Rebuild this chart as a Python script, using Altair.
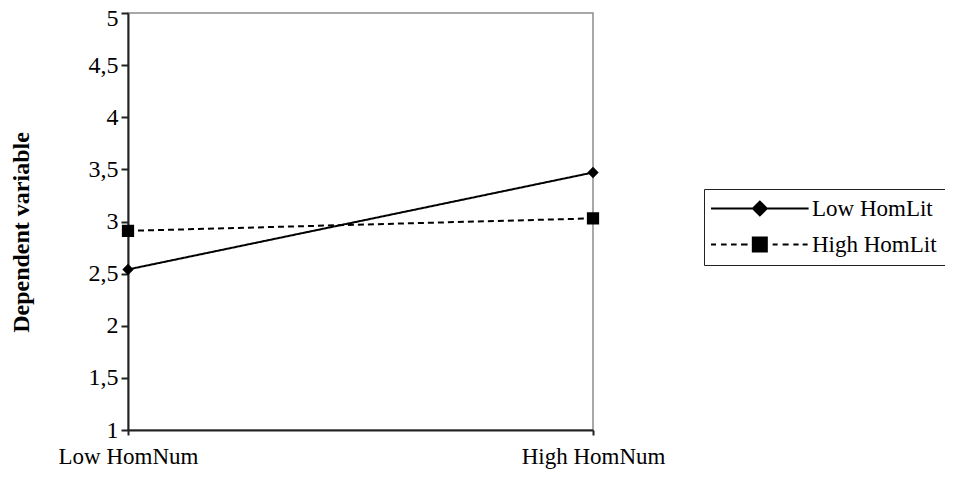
import altair as alt
import pandas as pd

x_levels = ["Low HomNum", "High HomNum"]
series_names = ["Low HomLit", "High HomLit"]
low_homlit = [2.54, 3.47]
high_homlit = [2.91, 3.03]
y_ticks = [1, 1.5, 2, 2.5, 3, 3.5, 4, 4.5, 5]

rows = []
for xi, v in zip(x_levels, low_homlit):
    rows.append({"x": xi, "series": series_names[0], "y": v})
for xi, v in zip(x_levels, high_homlit):
    rows.append({"x": xi, "series": series_names[1], "y": v})
df = pd.DataFrame(rows)

FONT = "Liberation Serif"

x_enc = alt.X(
    "x:N",
    sort=x_levels,
    scale=alt.Scale(type="point", padding=0),
    axis=alt.Axis(
        title=None, labelAngle=0, labelFont=FONT, labelFontSize=23,
        labelColor="#000", domainColor="#222", domainWidth=2,
        tickColor="#222", tickWidth=2, tickSize=5, labelPadding=10,
    ),
)
y_enc = alt.Y(
    "y:Q",
    scale=alt.Scale(domain=[1, 5], nice=False, zero=False),
    axis=alt.Axis(
        title="Dependent variable", titleFont=FONT, titleFontSize=24,
        titleFontWeight="bold", titleColor="#000", titlePadding=55,
        titleY=219,
        values=y_ticks, labelExpr="replace(toString(datum.value), '.', ',')",
        labelFont=FONT, labelFontSize=24, labelColor="#000", labelPadding=3,
        labelOffset={"condition": {"test": "datum.value === 5", "value": 5}, "value": 0},
        domainColor="#222", domainWidth=2, tickColor="#222", tickWidth=2,
        tickSize=7, grid=False,
    ),
)

lines = alt.Chart(df).mark_line(color="black", strokeWidth=2).encode(
    x=x_enc, y=y_enc,
    strokeDash=alt.StrokeDash(
        "series:N",
        scale=alt.Scale(domain=series_names, range=[[1, 0], [6, 4]]),
        legend=None,
    ),
)

points = alt.Chart(df).mark_point(filled=True, color="black", opacity=1).encode(
    x=x_enc, y=y_enc,
    shape=alt.Shape(
        "series:N",
        scale=alt.Scale(domain=series_names, range=["diamond", "square"]),
        legend=None,
    ),
    size=alt.Size("series:N", scale=alt.Scale(domain=series_names, range=[130, 150]), legend=None),
)


def seg(a, b, h=0.125):
    return f"M{a},{-h}H{b}V{h}H{a}Z"


diamond_path = (seg(-1.56, 3.6) + "M3.5,0L4.54,-1.04L5.58,0L4.54,1.04Z" + seg(5.48, 10.64))
square_path = (seg(-1.56, -0.935) + seg(-0.31, 0.39) + seg(0.94, 1.64) + seg(2.19, 3.015)
               + "M3.54,-1H5.54V1H3.54Z"
               + seg(6.14, 6.765) + seg(7.39, 8.14) + seg(8.73, 9.39) + seg(9.89, 10.515))

legend_layer = alt.Chart(df).mark_point(
    filled=True, color="black", opacity=1
).encode(
    x=x_enc, y=y_enc,
    shape=alt.Shape(
        "series:N",
        scale=alt.Scale(domain=series_names, range=[diamond_path, square_path]),
        legend=alt.Legend(
            title=None, orient="none", legendX=576, legendY=176,
            symbolSize=256, symbolFillColor="black",
            labelFont=FONT, labelFontSize=23,
            labelColor="#000", strokeColor="#222", padding=8,
            labelOffset=77, rowPadding=12,
        ),
    ),
).transform_filter("false")

chart = alt.layer(lines, points, legend_layer).resolve_scale(
    shape="independent"
).resolve_legend(shape="independent").properties(
    width=465, height=417,
    padding={"left": 120, "top": 5, "right": 352, "bottom": 40},
    autosize=alt.AutoSizeParams(type="none"),
    background="white",
).configure_view(stroke="#8c8c8c", strokeWidth=1.5)

chart.save("out.html", embed_options={"renderer": "svg", "actions": False})
